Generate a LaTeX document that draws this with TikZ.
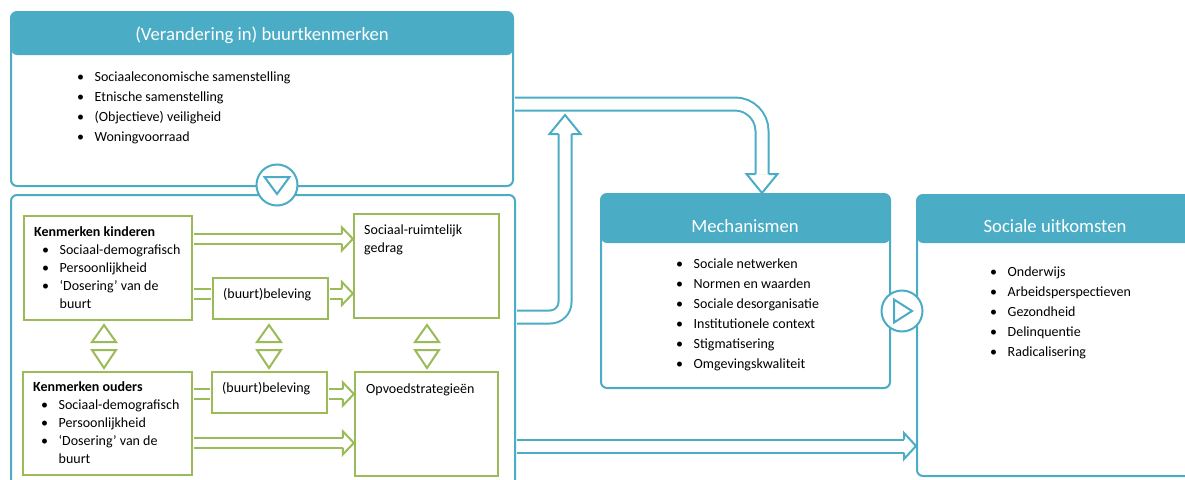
\documentclass[tikz,border=0pt]{standalone}
\usepackage{fontspec}
\setmainfont{Carlito}
\usepackage{xcolor}
\usetikzlibrary{calc}

\definecolor{kaderblauw}{HTML}{4BACC6}
\definecolor{kadergroen}{HTML}{9BBB59}

\newcommand{\lijstpunt}{\makebox[17.5pt][l]{\textbullet}}

\tikzset{
  blauwkader/.style={draw=kaderblauw, line width=2pt, rounded corners=6pt, fill=white, inner sep=0pt},
  kopvlak/.style={path picture={\fill[kaderblauw] (path picture bounding box.north west)
      rectangle ([yshift=-#1]path picture bounding box.north east);}},
  kop/.style={text=white, inner sep=0pt, font=\fontsize{18.7}{22}\selectfont},
  lijst/.style={anchor=north west, align=left, inner sep=0pt, font=\fontsize{14}{20}\selectfont},
  groenkader/.style={draw=kadergroen, line width=2.2pt, fill=white, inner sep=0pt},
  groentekst/.style={anchor=north west, align=left, inner sep=0pt, font=\fontsize{14}{18}\selectfont},
  groenpijl/.style={draw=kadergroen, line width=2pt, double=white, double distance=8pt},
  blauwpijl/.style={draw=kaderblauw, line width=2pt, double=white, double distance=11pt},
  knop/.style={circle, draw=kaderblauw, line width=2pt, fill=white, minimum size=41pt, inner sep=0pt},
  knoppijl/.style={draw=kaderblauw, line width=2pt},
  wissel/.style={draw=kadergroen, line width=2pt},
  groenkop/.pic={\draw[kadergroen, line width=2pt] (-11,-5) -- (-11,-11.5) -- (0,0) -- (-11,11.5) -- (-11,5);},
  blauwkop/.pic={\draw[kaderblauw, line width=2pt] (-19,-6.5) -- (-19,-15.5) -- (0,0) -- (-19,15.5) -- (-19,6.5);},
  kleinekop/.pic={\draw[kaderblauw, line width=2pt] (-12,-6.5) -- (-12,-13) -- (0,0) -- (-12,13) -- (-12,6.5);}
}

\begin{document}
\begin{tikzpicture}[x=1pt, y=-1pt]
  \clip (0,0) rectangle (1185,479);

  % Blauwe kaders
  \node[blauwkader, kopvlak=43pt, minimum width=502pt, minimum height=174pt] (buurt) at (262,99) {};
  \node[blauwkader, minimum width=504pt, minimum height=305pt] (links) at (263,347.5) {};
  \node[blauwkader, kopvlak=49pt, minimum width=289pt, minimum height=194pt] (mech) at (745.5,291) {};
  \node[blauwkader, kopvlak=48pt, minimum width=293pt, minimum height=281pt] (uitk) at (1063.5,335.5) {};

  % Koppen
  \node[kop] (buurtkop) at (262,35) {(Verandering in) buurtkenmerken};
  \node[kop] (mechkop) at (745,226) {Mechanismen};
  \node[kop] (uitkkop) at (1055,226) {Sociale uitkomsten};

  % Lijsten
  \node[lijst] (buurtlijst) at (77,71.5) {\lijstpunt Sociaaleconomische samenstelling\\
    \lijstpunt Etnische samenstelling\\
    \lijstpunt (Objectieve) veiligheid\\
    \lijstpunt Woningvoorraad};
  \node[lijst] (mechlijst) at (676,258.5) {\lijstpunt Sociale netwerken\\
    \lijstpunt Normen en waarden\\
    \lijstpunt Sociale desorganisatie\\
    \lijstpunt Institutionele context\\
    \lijstpunt Stigmatisering\\
    \lijstpunt Omgevingskwaliteit};
  \node[lijst] (uitklijst) at (990,266.5) {\lijstpunt Onderwijs\\
    \lijstpunt Arbeidsperspectieven\\
    \lijstpunt Gezondheid\\
    \lijstpunt Delinquentie\\
    \lijstpunt Radicalisering};

  % Groene kaders
  \node[groenkader, minimum width=168pt, minimum height=104pt] (kind) at (108,268) {};
  \node[groenkader, minimum width=145pt, minimum height=104pt] (ruim) at (426.5,266) {};
  \node[groenkader, minimum width=115pt, minimum height=41pt] (bel1) at (270.5,298.5) {};
  \node[groenkader, minimum width=169pt, minimum height=103pt] (oud) at (107.5,423.5) {};
  \node[groenkader, minimum width=115pt, minimum height=41pt] (bel2) at (269.5,392.5) {};
  \node[groenkader, minimum width=143pt, minimum height=104pt] (opv) at (426.5,424) {};

  % Tekst groene kaders
  \node[groentekst] (kindtekst) at (34,226.5) {\textbf{Kenmerken kinderen}\\
    \hspace*{8pt}\lijstpunt Sociaal-demografisch\\
    \hspace*{8pt}\lijstpunt Persoonlijkheid\\
    \hspace*{8pt}\lijstpunt ‘Dosering’ van de\\
    \hspace*{25.5pt}buurt};
  \node[groentekst] (ruimtekst) at (364,224.5) {Sociaal-ruimtelijk\\gedrag};
  \node[groentekst] (bel1tekst) at (223,288) {(buurt)beleving};
  \node[groentekst] (oudtekst) at (33,381.5) {\textbf{Kenmerken ouders}\\
    \hspace*{8pt}\lijstpunt Sociaal-demografisch\\
    \hspace*{8pt}\lijstpunt Persoonlijkheid\\
    \hspace*{8pt}\lijstpunt ‘Dosering’ van de\\
    \hspace*{25.5pt}buurt};
  \node[groentekst] (bel2tekst) at (222,382) {(buurt)beleving};
  \node[groentekst] (opvtekst) at (366,384) {Opvoedstrategieën};

  % Groene pijlen
  \coordinate (k1) at ([yshift=-24pt]kind.north east);
  \draw[groenpijl, shorten <=1.1pt, shorten >=11pt] (k1) -- (ruim.west |- k1);
  \pic at (ruim.west |- k1) {groenkop};
  \coordinate (k2) at ([yshift=5pt]bel1.west);
  \draw[groenpijl, shorten <=1.1pt, shorten >=1.1pt] (kind.east |- k2) -- (k2);
  \coordinate (k3) at ([yshift=5pt]bel1.east);
  \draw[groenpijl, shorten <=1.1pt, shorten >=11pt] (k3) -- (ruim.west |- k3);
  \pic at (ruim.west |- k3) {groenkop};
  \coordinate (k4) at ([yshift=-1.5pt]bel2.west);
  \draw[groenpijl, shorten <=1.1pt, shorten >=1.1pt] (oud.east |- k4) -- (k4);
  \coordinate (k5) at ([yshift=-1.5pt]bel2.east);
  \draw[groenpijl, shorten <=1.1pt, shorten >=11pt] (k5) -- (opv.west |- k5);
  \pic at (opv.west |- k5) {groenkop};
  \coordinate (k6) at ([yshift=-72pt]oud.north east);
  \draw[groenpijl, shorten <=1.1pt, shorten >=11pt] (k6) -- (opv.west |- k6);
  \pic at (opv.west |- k6) {groenkop};

  % Wisselwerking kinderen/ouders
  \draw[wissel] (92,342) -- (116,342) -- (104,325) -- cycle;
  \draw[wissel] (92,350) -- (116,350) -- (104,368) -- cycle;
  \draw[wissel] (257,342) -- (281,342) -- (269,325) -- cycle;
  \draw[wissel] (257,350) -- (281,350) -- (269,368) -- cycle;
  \draw[wissel] (415,342) -- (439,342) -- (427,325) -- cycle;
  \draw[wissel] (415,350) -- (439,350) -- (427,368) -- cycle;

  % Blauwe pijlen
  \coordinate (b1) at ([yshift=-5pt]buurt.east);
  \coordinate (b1tip) at ([xshift=16.5pt]mech.north);
  \draw[blauwpijl, rounded corners=27pt, shorten <=1pt, shorten >=19pt] (b1) -| (b1tip);
  \pic[rotate=-90] at (b1tip) {blauwkop};
  \coordinate (b2) at ([yshift=30.5pt]links.east);
  \coordinate (omhoog) at (565,115);
  \draw[blauwpijl, rounded corners=15pt, shorten <=1pt, shorten >=19pt] (b2) -| (omhoog);
  \pic[rotate=90] at (omhoog) {blauwkop};
  \coordinate (b3) at ([yshift=-98.5pt]links.east);
  \draw[blauwpijl, shorten <=1pt, shorten >=12pt] (b3) -- (uitk.west |- b3);
  \pic at (uitk.west |- b3) {kleinekop};

  % Knoppen
  \node[knop] (knopomlaag) at (277,185) {};
  \draw[knoppijl] ([shift={(-12.5,-8)}]knopomlaag.center) -- ([shift={(12.5,-8)}]knopomlaag.center)
    -- ([shift={(0,9)}]knopomlaag.center) -- cycle;
  \node[knop] (knoprechts) at (902,311) {};
  \draw[knoppijl] ([shift={(-8,-11.5)}]knoprechts.center) -- ([shift={(-8,11.5)}]knoprechts.center)
    -- ([shift={(10,0)}]knoprechts.center) -- cycle;
\end{tikzpicture}
\end{document}
